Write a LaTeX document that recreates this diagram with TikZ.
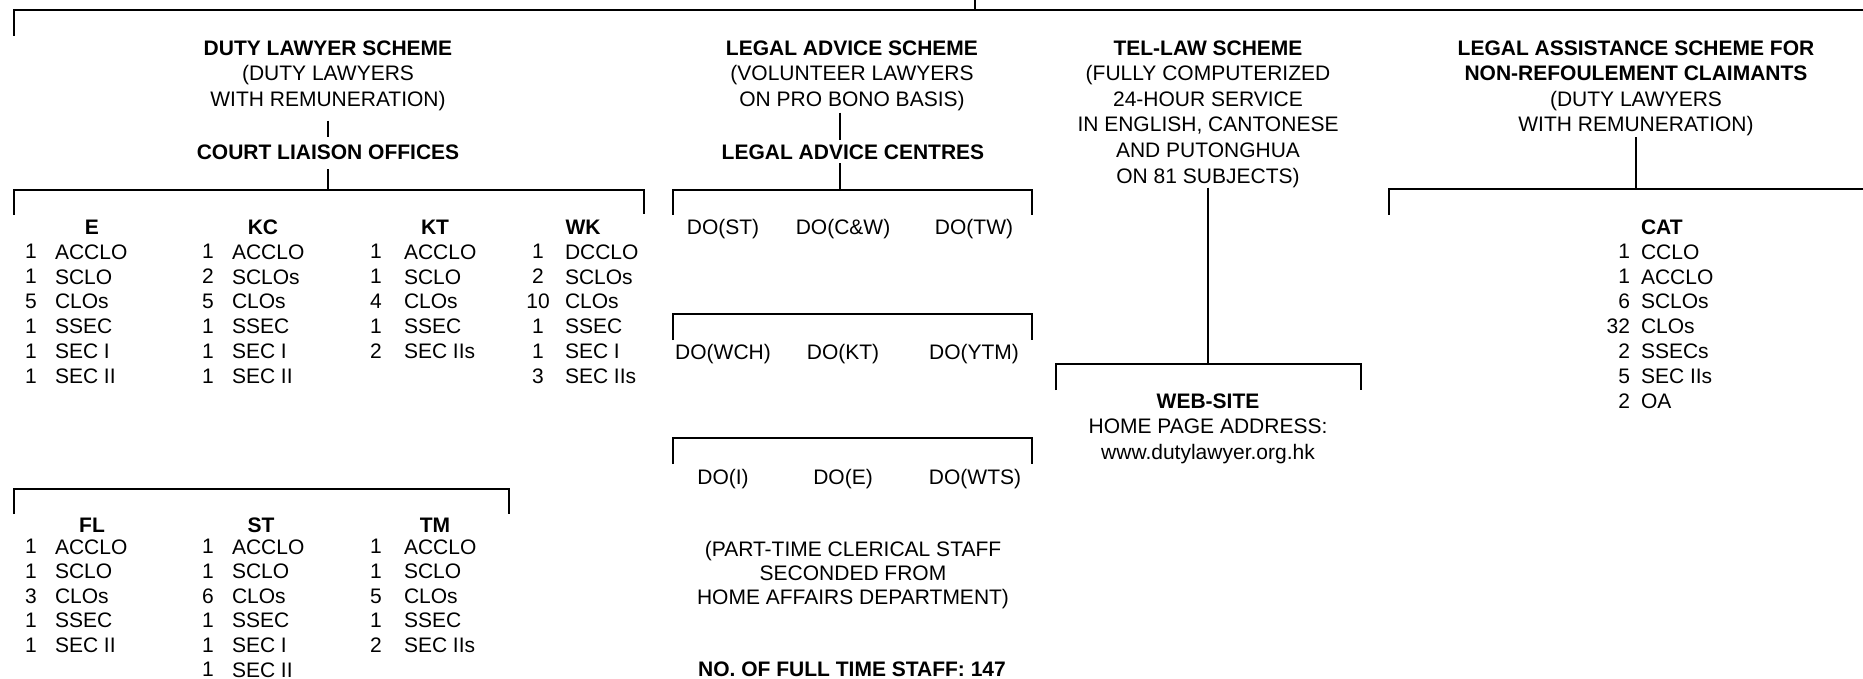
\documentclass[tikz,border=0pt]{standalone}
\usepackage{fontspec}
\setmainfont{Liberation Sans}
\begin{document}
\begin{tikzpicture}[x=0.5pt,y=-0.5pt,
  every node/.style={inner sep=0pt,outer sep=0pt},
  txt/.style={align=center,font=\fontsize{10.5}{12.8}\selectfont},
  txtb/.style={font=\fontsize{10.5}{12.8}\selectfont\bfseries},
  col/.style={font=\fontsize{10.5}{12.45}\selectfont},
  colb/.style={font=\fontsize{10.5}{12.3}\selectfont},
  hd/.style={font=\fontsize{10.5}{12.45}\selectfont\bfseries},
  link/.style={line width=1.25pt},
  tick/.style={line width=0.6pt}]
\useasboundingbox (0,0) rectangle (1863,679);

% top bus
\coordinate (root) at (975,-4);
\coordinate (rootB) at (975,10);
\draw[link] (root) -- (rootB);
\draw[link] (14,36) -- (14,10) -- (1870,10);

% ---------- Duty lawyer scheme ----------
\node[txt,anchor=north] (dls) at (328,40.5) {\textbf{DUTY LAWYER SCHEME}\\(DUTY LAWYERS\\WITH REMUNERATION)};
\node[txtb,anchor=base] (clo) at (328,159.5) {COURT LIAISON OFFICES};
\coordinate (cloB) at (328,190);
\draw[tick,shorten <=5pt,shorten >=3.7pt] (dls.south) -- (clo.north);
\draw[tick,shorten <=4.75pt] (clo.south) -- (cloB);
\draw[link] (14,215) -- (14,190) -- (644,190) -- (644,214);

\node[hd] (hE) at (92,227) {E};
\node[col,align=center,anchor=north] (nE) at (31,244.5) {1\\1\\5\\1\\1\\1};
\node[col,align=left,anchor=north west] (tE) at (55,244.5) {ACCLO\\SCLO\\CLOs\\SSEC\\SEC I\\SEC II};

\node[hd] (hKC) at (263,227) {KC};
\node[col,align=center,anchor=north] (nKC) at (208,244.5) {1\\2\\5\\1\\1\\1};
\node[col,align=left,anchor=north west] (tKC) at (232,244.5) {ACCLO\\SCLOs\\CLOs\\SSEC\\SEC I\\SEC II};

\node[hd] (hKT) at (435,227) {KT};
\node[col,align=center,anchor=north] (nKT) at (376,244.5) {1\\1\\4\\1\\2};
\node[col,align=left,anchor=north west] (tKT) at (404,244.5) {ACCLO\\SCLO\\CLOs\\SSEC\\SEC IIs};

\node[hd] (hWK) at (583,227) {WK};
\node[col,align=center,anchor=north] (nWK) at (538,244.5) {1\\2\\10\\1\\1\\3};
\node[col,align=left,anchor=north west] (tWK) at (565,244.5) {DCCLO\\SCLOs\\CLOs\\SSEC\\SEC I\\SEC IIs};

\draw[link] (14,514) -- (14,489) -- (509,489) -- (509,514);

\node[hd] (hFL) at (92,525) {FL};
\node[colb,align=center,anchor=north] (nFL) at (31,539.5) {1\\1\\3\\1\\1};
\node[colb,align=left,anchor=north west] (tFL) at (55,539.5) {ACCLO\\SCLO\\CLOs\\SSEC\\SEC II};

\node[hd] (hST) at (261,525) {ST};
\node[colb,align=center,anchor=north] (nST) at (208,539.5) {1\\1\\6\\1\\1\\1};
\node[colb,align=left,anchor=north west] (tST) at (232,539.5) {ACCLO\\SCLO\\CLOs\\SSEC\\SEC I\\SEC II};

\node[hd] (hTM) at (435,525) {TM};
\node[colb,align=center,anchor=north] (nTM) at (376,539.5) {1\\1\\5\\1\\2};
\node[colb,align=left,anchor=north west] (tTM) at (404,539.5) {ACCLO\\SCLO\\CLOs\\SSEC\\SEC IIs};

% ---------- Legal advice scheme ----------
\node[txt,anchor=north] (las) at (852,40.5) {\textbf{LEGAL ADVICE SCHEME}\\(VOLUNTEER LAWYERS\\ON PRO BONO BASIS)};
\node[txtb,anchor=base] (lac) at (853,159.5) {LEGAL ADVICE CENTRES};
\coordinate (lacB) at (840,190);
\draw[link,shorten <=1pt,shorten >=2.2pt] ([xshift=-6pt]las.south) -- ([xshift=-6.5pt]lac.north);
\draw[link,shorten <=1.75pt] ([xshift=-6.5pt]lac.south) -- (lacB);

\draw[link] (673,215) -- (673,190) -- (1032,190) -- (1032,215);
\node[txt,anchor=base] (d1) at (723,234.5) {DO(ST)};
\node[txt,anchor=base] (d2) at (843,234.5) {DO(C\&W)};
\node[txt,anchor=base] (d3) at (974,234.5) {DO(TW)};

\draw[link] (673,340) -- (673,314) -- (1032,314) -- (1032,340);
\node[txt,anchor=base] (d4) at (723,359.5) {DO(WCH)};
\node[txt,anchor=base] (d5) at (843,359.5) {DO(KT)};
\node[txt,anchor=base] (d6) at (974,359.5) {DO(YTM)};

\draw[link] (673,464) -- (673,438) -- (1032,438) -- (1032,464);
\node[txt,anchor=base] (d7) at (723,484.5) {DO(I)};
\node[txt,anchor=base] (d8) at (843,484.5) {DO(E)};
\node[txt,anchor=base] (d9) at (975,484.5) {DO(WTS)};

\node[align=center,font=\fontsize{10.5}{12.1}\selectfont,anchor=north] (pt) at (853,541.2) {(PART-TIME CLERICAL STAFF\\SECONDED FROM\\HOME AFFAIRS DEPARTMENT)};
\node[txtb,anchor=base] (staff) at (852,676.5) {NO. OF FULL TIME STAFF: 147};

% ---------- Tel-law scheme ----------
\node[txt,anchor=north] (tel) at (1208,40.5) {\textbf{TEL-LAW SCHEME}\\(FULLY COMPUTERIZED\\24-HOUR SERVICE\\IN ENGLISH, CANTONESE\\AND PUTONGHUA\\ON 81 SUBJECTS)};
\coordinate (telB) at (1208,364);
\draw[link] (tel.south) -- (telB);
\draw[link] (1056,390) -- (1056,364) -- (1361,364) -- (1361,390);
\node[align=center,font=\fontsize{10.5}{12.75}\selectfont,anchor=north] (web) at (1208,393.5) {\textbf{WEB-SITE}\\HOME PAGE ADDRESS:\\www.dutylawyer.org.hk};

% ---------- Legal assistance scheme for non-refoulement claimants ----------
\node[txt,anchor=north] (lasn) at (1636,40.5) {\textbf{LEGAL ASSISTANCE SCHEME FOR}\\\textbf{NON-REFOULEMENT CLAIMANTS}\\(DUTY LAWYERS\\WITH REMUNERATION)};
\coordinate (lasnB) at (1636,189);
\draw[link,shorten <=0.5pt] (lasn.south) -- (lasnB);
\draw[link] (1389,215) -- (1389,189) -- (1870,189);

\node[hd,anchor=west] (hCAT) at (1641,227) {CAT};
\node[col,align=right,anchor=north east] (nCAT) at (1630,244.5) {1\\1\\6\\32\\2\\5\\2};
\node[col,align=left,anchor=north west] (tCAT) at (1641,244.5) {CCLO\\ACCLO\\SCLOs\\CLOs\\SSECs\\SEC IIs\\OA};
\end{tikzpicture}
\end{document}
